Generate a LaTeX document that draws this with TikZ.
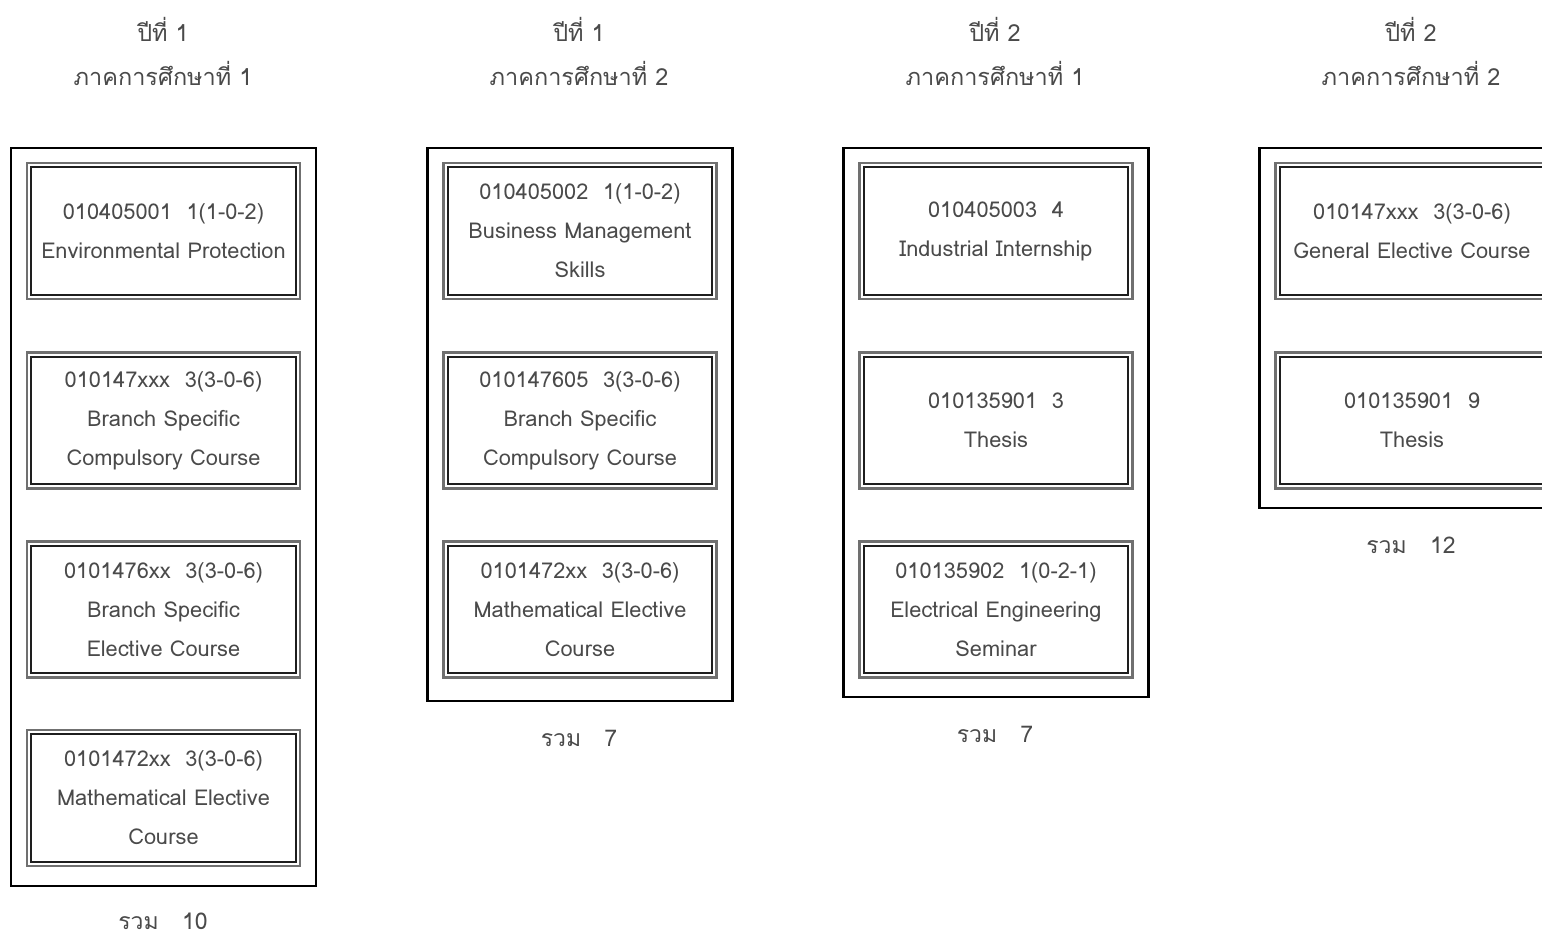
\documentclass[tikz,border=0pt]{standalone}
\usepackage{fontspec}
\setmainfont[Script=Thai]{Loma}
\usetikzlibrary{positioning}
\definecolor{txt}{HTML}{4A4A4A}
\definecolor{rimout}{HTML}{707070}
\definecolor{rimin}{HTML}{1E1E1E}
\tikzset{
  semester/.style={draw=black, line width=2.6pt, minimum width=305pt, inner sep=0pt},
  course/.style={draw=rimout, line width=2.4pt, minimum width=273pt, minimum height=136pt,
    inner sep=0pt, align=center, text=txt, font=\fontsize{21.8}{39}\selectfont},
  innerrim/.style={draw=rimin, line width=1.8pt},
  heading/.style={align=center, text=txt, font=\fontsize{23.5}{44}\selectfont},
  total/.style={text=txt, font=\fontsize{23}{26}\selectfont}
}
\newcommand{\rim}[1]{\draw[innerrim] ([shift={(5.5pt,-5.5pt)}]#1.north west) rectangle ([shift={(-5.5pt,5.5pt)}]#1.south east);}
\begin{document}
\begin{tikzpicture}[x=1pt,y=-1pt]
\useasboundingbox (0,0) rectangle (1542,938);
\clip (0,0) rectangle (1542,938);

% headings
\node[heading] (h1) at (163,51.5) {ปีที่ 1\\ภาคการศึกษาที่ 1};
\node[heading] (h2) at (579,51.5) {ปีที่ 1\\ภาคการศึกษาที่ 2};
\node[heading] (h3) at (995,51.5) {ปีที่ 2\\ภาคการศึกษาที่ 1};
\node[heading] (h4) at (1411,51.5) {ปีที่ 2\\ภาคการศึกษาที่ 2};

% semester frames
\node[semester, minimum height=738pt] (s1) at (163.5,517) {};
\node[semester, minimum height=553pt] (s2) at (580,424.5) {};
\node[semester, minimum height=549pt] (s3) at (996,422.5) {};
\node[semester, minimum height=360pt] (s4) at (1412,328) {};

% year 1, semester 1
\node[course] (c11) at (163.5,231) {010405001\ \ 1(1-0-2)\\Environmental Protection};
\node[course] (c12) at (163.5,420.5) {010147xxx\ \ 3(3-0-6)\\Branch Specific\\Compulsory Course};
\node[course] (c13) at (163.5,609.5) {0101476xx\ \ 3(3-0-6)\\Branch Specific\\Elective Course};
\node[course] (c14) at (163.5,798) {0101472xx\ \ 3(3-0-6)\\Mathematical Elective\\Course};

% year 1, semester 2
\node[course] (c21) at (580,231) {010405002\ \ 1(1-0-2)\\Business Management\\Skills};
\node[course] (c22) at (580,420.5) {010147605\ \ 3(3-0-6)\\Branch Specific\\Compulsory Course};
\node[course] (c23) at (580,609.5) {0101472xx\ \ 3(3-0-6)\\Mathematical Elective\\Course};

% year 2, semester 1
\node[course] (c31) at (996,231) {010405003\ \ 4\\Industrial Internship};
\node[course] (c32) at (996,420.5) {010135901\ \ 3\\Thesis};
\node[course] (c33) at (996,609.5) {010135902\ \ 1(0-2-1)\\Electrical Engineering\\Seminar};

% year 2, semester 2
\node[course] (c41) at (1412,231) {010147xxx\ \ 3(3-0-6)\\General Elective Course};
\node[course] (c42) at (1412,420.5) {010135901\ \ 9\\Thesis};

\foreach \c in {c11,c12,c13,c14,c21,c22,c23,c31,c32,c33,c41,c42} {\rim{\c}}

% credit totals
\node[total] (t1) at (163,921) {รวม\ \ \ 10};
\node[total] (t2) at (579,738) {รวม\ \ \ 7};
\node[total] (t3) at (995,734) {รวม\ \ \ 7};
\node[total] (t4) at (1411,545) {รวม\ \ \ 12};
\end{tikzpicture}
\end{document}
